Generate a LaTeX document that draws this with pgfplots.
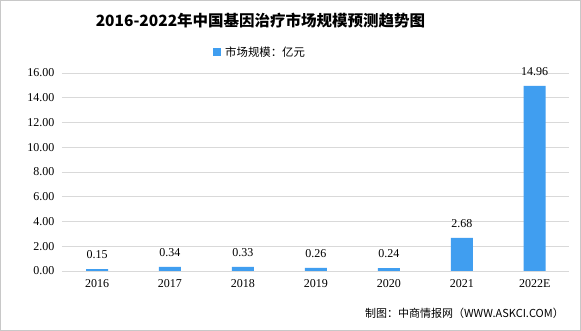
\documentclass[border=0pt]{standalone}
\usepackage{pgfplots}
\pgfplotsset{compat=1.18}
\usepackage{fontspec}
\setmainfont{Liberation Serif}
\newfontfamily\cjk{Noto Sans CJK SC}
\definecolor{barblue}{RGB}{64,158,240}
\definecolor{gridgray}{RGB}{217,217,217}
\definecolor{framegray}{RGB}{200,200,200}
\begin{document}
\begin{tikzpicture}[x=1pt,y=1pt]
\useasboundingbox (0,0) rectangle (581,331);
\draw[framegray, fill=white] (0.5,0.5) rectangle (580.5,330.5);
\begin{axis}[
  at={(62pt,60pt)}, anchor=south west,
  scale only axis, width=507pt, height=198pt,
  ymin=0, ymax=16, ytick={0,2,...,16},
  xmin=-0.48, xmax=6.47,
  xtick={0,1,2,3,4,5,6},
  xticklabels={2016,2017,2018,2019,2020,2021,2022E},
  axis x line*=bottom, axis y line*=left,
  axis line style={draw=none},
  major tick length=0pt,
  ymajorgrids, grid style={gridgray, line width=0.8pt},
  /pgf/number format/assume math mode=true,
  yticklabel={\pgfmathprintnumber[fixed,fixed zerofill,precision=2]{\tick}},
  yticklabel style={font=\fontsize{12}{12}\selectfont, xshift=-4pt},
  xticklabel style={font=\fontsize{12}{12}\selectfont, yshift=-5pt},
  ybar, bar width=22pt,
  nodes near coords={\pgfmathprintnumber[fixed,fixed zerofill,precision=2]{\pgfplotspointmeta}},
  nodes near coords style={font=\fontsize{12}{12}\selectfont, anchor=south, yshift=7pt},
  clip=false,
]
\addplot[fill=barblue, draw=none] coordinates {
  (0,0.15) (1,0.34) (2,0.33) (3,0.26) (4,0.24) (5,2.68) (6,14.96)
};
\end{axis}
\node at (260.5,310) {\cjk\bfseries\fontsize{15.5}{16}\selectfont 2016-2022年中国基因治疗市场规模预测趋势图};
\fill[barblue] (213,275) rectangle (221,283);
\node[anchor=west, inner sep=0pt] at (225,279) {\cjk\fontsize{11.4}{12}\selectfont 市场规模：亿元};
\node[anchor=east, inner sep=0pt] at (564,18) {\cjk\fontsize{11}{12}\selectfont 制图：中商情报网（WWW.ASKCI.COM）};
\end{tikzpicture}
\end{document}
